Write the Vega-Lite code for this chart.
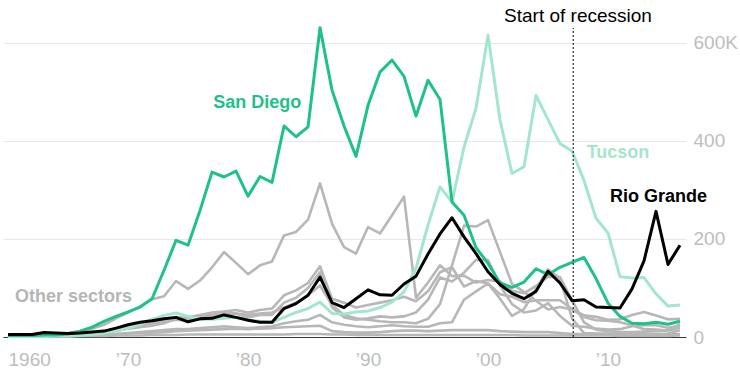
{
  "$schema": "https://vega.github.io/schema/vega-lite/v6.json",
  "width": 683,
  "height": 337,
  "autosize": {"type": "none"},
  "padding": {"left": 3, "top": 0, "right": 54, "bottom": 44},
  "background": "white",
  "config": {"view": {"stroke": null}, "font": "Liberation Sans"},
  "datasets": {
    "sectors": [
      {"year":1960,"SD":3,"TU":1,"RG":5,"EP":4,"LA":2,"DR":3,"EC":2,"YU":1,"MA":1,"OT":1},
      {"year":1961,"SD":3,"TU":1,"RG":5,"EP":4,"LA":2,"DR":3,"EC":2,"YU":1,"MA":1,"OT":1},
      {"year":1962,"SD":3,"TU":1,"RG":5,"EP":5,"LA":3,"DR":4,"EC":2,"YU":1,"MA":1,"OT":1},
      {"year":1963,"SD":4,"TU":1,"RG":9,"EP":5,"LA":3,"DR":4,"EC":3,"YU":1,"MA":2,"OT":1},
      {"year":1964,"SD":4,"TU":2,"RG":8,"EP":6,"LA":4,"DR":5,"EC":3,"YU":2,"MA":2,"OT":1},
      {"year":1965,"SD":6,"TU":2,"RG":7,"EP":8,"LA":5,"DR":6,"EC":4,"YU":2,"MA":2,"OT":1},
      {"year":1966,"SD":12,"TU":3,"RG":8,"EP":12,"LA":6,"DR":7,"EC":6,"YU":3,"MA":3,"OT":2},
      {"year":1967,"SD":20,"TU":5,"RG":10,"EP":17,"LA":8,"DR":9,"EC":8,"YU":4,"MA":4,"OT":2},
      {"year":1968,"SD":32,"TU":8,"RG":12,"EP":25,"LA":10,"DR":12,"EC":12,"YU":5,"MA":5,"OT":2},
      {"year":1969,"SD":42,"TU":12,"RG":18,"EP":38,"LA":13,"DR":15,"EC":16,"YU":6,"MA":6,"OT":3},
      {"year":1970,"SD":51,"TU":18,"RG":25,"EP":50,"LA":17,"DR":18,"EC":20,"YU":8,"MA":7,"OT":3},
      {"year":1971,"SD":61,"TU":26,"RG":30,"EP":62,"LA":20,"DR":22,"EC":24,"YU":10,"MA":8,"OT":3},
      {"year":1972,"SD":78,"TU":36,"RG":33,"EP":77,"LA":23,"DR":25,"EC":28,"YU":12,"MA":9,"OT":4},
      {"year":1973,"SD":136,"TU":44,"RG":37,"EP":83,"LA":28,"DR":30,"EC":35,"YU":14,"MA":10,"OT":4},
      {"year":1974,"SD":197,"TU":49,"RG":40,"EP":114,"LA":38,"DR":35,"EC":40,"YU":16,"MA":12,"OT":4},
      {"year":1975,"SD":187,"TU":42,"RG":31,"EP":98,"LA":40,"DR":33,"EC":38,"YU":16,"MA":13,"OT":5},
      {"year":1976,"SD":258,"TU":36,"RG":37,"EP":115,"LA":45,"DR":38,"EC":42,"YU":18,"MA":14,"OT":5},
      {"year":1977,"SD":336,"TU":36,"RG":38,"EP":142,"LA":50,"DR":42,"EC":45,"YU":20,"MA":15,"OT":5},
      {"year":1978,"SD":326,"TU":38,"RG":45,"EP":173,"LA":52,"DR":45,"EC":50,"YU":22,"MA":16,"OT":5},
      {"year":1979,"SD":338,"TU":40,"RG":40,"EP":151,"LA":55,"DR":48,"EC":48,"YU":20,"MA":17,"OT":5},
      {"year":1980,"SD":287,"TU":35,"RG":34,"EP":128,"LA":50,"DR":40,"EC":45,"YU":18,"MA":16,"OT":5},
      {"year":1981,"SD":327,"TU":32,"RG":30,"EP":146,"LA":55,"DR":45,"EC":48,"YU":20,"MA":17,"OT":5},
      {"year":1982,"SD":315,"TU":30,"RG":30,"EP":154,"LA":58,"DR":45,"EC":50,"YU":22,"MA":18,"OT":5},
      {"year":1983,"SD":430,"TU":40,"RG":58,"EP":207,"LA":85,"DR":70,"EC":60,"YU":28,"MA":20,"OT":5},
      {"year":1984,"SD":408,"TU":50,"RG":68,"EP":214,"LA":95,"DR":80,"EC":70,"YU":32,"MA":21,"OT":6},
      {"year":1985,"SD":428,"TU":58,"RG":85,"EP":239,"LA":110,"DR":100,"EC":85,"YU":35,"MA":22,"OT":6},
      {"year":1986,"SD":630,"TU":71,"RG":122,"EP":313,"LA":144,"DR":132,"EC":105,"YU":45,"MA":23,"OT":6},
      {"year":1987,"SD":503,"TU":48,"RG":70,"EP":231,"LA":78,"DR":60,"EC":65,"YU":30,"MA":12,"OT":5},
      {"year":1988,"SD":430,"TU":47,"RG":60,"EP":183,"LA":70,"DR":40,"EC":45,"YU":25,"MA":10,"OT":5},
      {"year":1989,"SD":368,"TU":51,"RG":78,"EP":170,"LA":60,"DR":35,"EC":38,"YU":22,"MA":9,"OT":4},
      {"year":1990,"SD":472,"TU":53,"RG":96,"EP":224,"LA":65,"DR":38,"EC":35,"YU":20,"MA":9,"OT":4},
      {"year":1991,"SD":540,"TU":60,"RG":86,"EP":211,"LA":70,"DR":42,"EC":32,"YU":22,"MA":10,"OT":4},
      {"year":1992,"SD":564,"TU":71,"RG":85,"EP":248,"LA":75,"DR":40,"EC":30,"YU":24,"MA":12,"OT":4},
      {"year":1993,"SD":531,"TU":92,"RG":108,"EP":286,"LA":82,"DR":42,"EC":30,"YU":22,"MA":13,"OT":4},
      {"year":1994,"SD":450,"TU":140,"RG":124,"EP":80,"LA":73,"DR":50,"EC":28,"YU":21,"MA":13,"OT":4},
      {"year":1995,"SD":523,"TU":228,"RG":169,"EP":111,"LA":93,"DR":76,"EC":37,"YU":21,"MA":12,"OT":4},
      {"year":1996,"SD":484,"TU":306,"RG":210,"EP":146,"LA":132,"DR":121,"EC":67,"YU":28,"MA":13,"OT":4},
      {"year":1997,"SD":275,"TU":275,"RG":243,"EP":124,"LA":142,"DR":113,"EC":146,"YU":30,"MA":14,"OT":4},
      {"year":1998,"SD":248,"TU":387,"RG":204,"EP":125,"LA":103,"DR":131,"EC":227,"YU":76,"MA":14,"OT":4},
      {"year":1999,"SD":182,"TU":466,"RG":170,"EP":111,"LA":114,"DR":157,"EC":225,"YU":93,"MA":14,"OT":4},
      {"year":2000,"SD":150,"TU":615,"RG":133,"EP":116,"LA":109,"DR":157,"EC":238,"YU":109,"MA":14,"OT":4},
      {"year":2001,"SD":110,"TU":442,"RG":107,"EP":113,"LA":87,"DR":105,"EC":173,"YU":78,"MA":12,"OT":4},
      {"year":2002,"SD":101,"TU":333,"RG":89,"EP":94,"LA":82,"DR":67,"EC":108,"YU":43,"MA":11,"OT":4},
      {"year":2003,"SD":112,"TU":347,"RG":78,"EP":89,"LA":71,"DR":50,"EC":92,"YU":57,"MA":10,"OT":3},
      {"year":2004,"SD":139,"TU":492,"RG":93,"EP":104,"LA":75,"DR":54,"EC":74,"YU":98,"MA":10,"OT":3},
      {"year":2005,"SD":127,"TU":443,"RG":134,"EP":123,"LA":75,"DR":69,"EC":56,"YU":138,"MA":10,"OT":3},
      {"year":2006,"SD":142,"TU":394,"RG":110,"EP":122,"LA":75,"DR":43,"EC":61,"YU":119,"MA":8,"OT":3},
      {"year":2007,"SD":152,"TU":379,"RG":74,"EP":75,"LA":57,"DR":23,"EC":56,"YU":38,"MA":6,"OT":3},
      {"year":2008,"SD":162,"TU":319,"RG":76,"EP":30,"LA":44,"DR":21,"EC":41,"YU":8,"MA":6,"OT":3},
      {"year":2009,"SD":119,"TU":242,"RG":61,"EP":15,"LA":41,"DR":17,"EC":34,"YU":7,"MA":6,"OT":3},
      {"year":2010,"SD":69,"TU":212,"RG":60,"EP":12,"LA":35,"DR":15,"EC":33,"YU":7,"MA":5,"OT":3},
      {"year":2011,"SD":42,"TU":123,"RG":59,"EP":10,"LA":36,"DR":16,"EC":30,"YU":6,"MA":4,"OT":2},
      {"year":2012,"SD":28,"TU":120,"RG":98,"EP":10,"LA":45,"DR":22,"EC":24,"YU":7,"MA":4,"OT":2},
      {"year":2013,"SD":27,"TU":121,"RG":155,"EP":11,"LA":51,"DR":24,"EC":16,"YU":6,"MA":4,"OT":2},
      {"year":2014,"SD":30,"TU":88,"RG":256,"EP":12,"LA":44,"DR":24,"EC":15,"YU":6,"MA":4,"OT":2},
      {"year":2015,"SD":26,"TU":63,"RG":148,"EP":14,"LA":36,"DR":19,"EC":13,"YU":7,"MA":5,"OT":2},
      {"year":2016,"SD":32,"TU":65,"RG":187,"EP":26,"LA":37,"DR":23,"EC":19,"YU":14,"MA":6,"OT":3}
    ]
  },
  "data": {"name": "sectors"},
  "encoding": {
    "x": {
      "field": "year", "type": "quantitative",
      "scale": {"domain": [1959.58, 2016.5], "nice": false, "zero": false},
      "axis": {
        "title": null, "values": [1960, 1970, 1980, 1990, 2000, 2010],
        "labelExpr": "datum.value == 1960 ? '1960' : '\u2019' + slice(toString(datum.value), 2)",
        "labelAlign": {"expr": "datum.value == 1960 ? 'left' : 'center'"},
        "grid": false, "ticks": false, "domain": true, "domainColor": "#3a3a3a", "domainWidth": 1,
        "labelColor": "#bdbdbd", "labelFontSize": 19, "labelPadding": 13, "labelFont": "Liberation Sans"
      }
    },
    "y": {
      "type": "quantitative",
      "scale": {"domain": [0, 686.6], "nice": false, "zero": true},
      "axis": {
        "title": null, "orient": "right", "values": [0, 200, 400, 600],
        "labelExpr": "datum.value == 600 ? '600K' : datum.label",
        "grid": true, "gridColor": "#e8e8e8", "gridWidth": 1, "ticks": false, "domain": false,
        "labelColor": "#bdbdbd", "labelFontSize": 19, "labelPadding": 7, "labelAlign": "left", "labelBaseline": "middle",
        "labelFont": "Liberation Sans"
      }
    }
  },
  "layer": [
    {
      "transform": [{"fold": ["EP", "LA", "DR", "EC", "YU", "MA", "OT"], "as": ["sector", "value"]}],
      "mark": {"type": "line", "color": "#b7b7b7", "strokeWidth": 2.6, "strokeJoin": "round"},
      "encoding": {"y": {"field": "value", "type": "quantitative"}, "detail": {"field": "sector"}}
    },
    {
      "mark": {"type": "line", "color": "#a3e6cd", "strokeWidth": 3, "strokeJoin": "round"},
      "encoding": {"y": {"field": "TU", "type": "quantitative"}}
    },
    {
      "mark": {"type": "line", "color": "#1fc18a", "strokeWidth": 3, "strokeJoin": "round"},
      "encoding": {"y": {"field": "SD", "type": "quantitative"}}
    },
    {
      "mark": {"type": "line", "color": "#000000", "strokeWidth": 3, "strokeJoin": "round"},
      "encoding": {"y": {"field": "RG", "type": "quantitative"}}
    },
    {
      "data": {"values": [{"event": "Start of recession", "year": 2007.1, "low": 0, "high": 629.6}]},
      "mark": {"type": "rule", "color": "#000000", "strokeWidth": 1, "strokeDash": [2, 2]},
      "encoding": {"y": {"field": "low", "type": "quantitative"}, "y2": {"field": "high"}}
    },
    {
      "data": {"values": [{"label": "Start of recession", "year": 2007.5, "value": 642}]},
      "mark": {"type": "text", "align": "center", "baseline": "alphabetic", "fontSize": 19, "color": "#000000", "font": "Liberation Sans"},
      "encoding": {"y": {"field": "value", "type": "quantitative"}, "text": {"field": "label"}}
    },
    {
      "data": {"values": [{"label": "San Diego", "year": 1977.1, "value": 466}]},
      "mark": {"type": "text", "align": "left", "baseline": "alphabetic", "fontSize": 18, "fontWeight": "bold", "color": "#1fc18a", "font": "Liberation Sans"},
      "encoding": {"y": {"field": "value", "type": "quantitative"}, "text": {"field": "label"}}
    },
    {
      "data": {"values": [{"label": "Tucson", "year": 2008.22, "value": 364}]},
      "mark": {"type": "text", "align": "left", "baseline": "alphabetic", "fontSize": 18, "fontWeight": "bold", "color": "#a3e6cd", "font": "Liberation Sans"},
      "encoding": {"y": {"field": "value", "type": "quantitative"}, "text": {"field": "label"}}
    },
    {
      "data": {"values": [{"label": "Rio Grande", "year": 2010.17, "value": 275.7}]},
      "mark": {"type": "text", "align": "left", "baseline": "alphabetic", "fontSize": 18, "fontWeight": "bold", "color": "#000000", "font": "Liberation Sans"},
      "encoding": {"y": {"field": "value", "type": "quantitative"}, "text": {"field": "label"}}
    },
    {
      "data": {"values": [{"label": "Other sectors", "year": 1960.58, "value": 71.9}]},
      "mark": {"type": "text", "align": "left", "baseline": "alphabetic", "fontSize": 18, "fontWeight": "bold", "color": "#b5b5b5", "font": "Liberation Sans"},
      "encoding": {"y": {"field": "value", "type": "quantitative"}, "text": {"field": "label"}}
    }
  ]
}
